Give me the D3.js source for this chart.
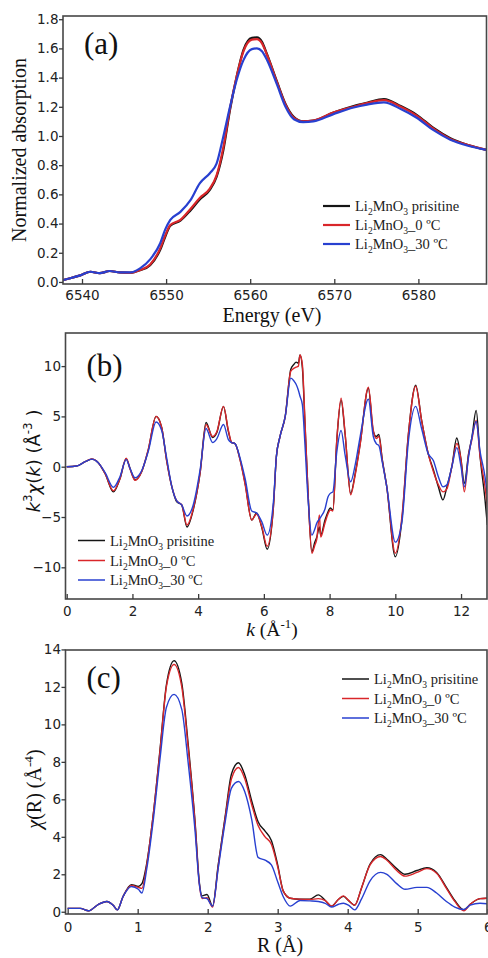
<!DOCTYPE html>
<html>
<head>
<meta charset="utf-8">
<script src="https://cdn.jsdelivr.net/npm/d3@7"></script>
<style>
  html, body { margin: 0; padding: 0; background: #fff; }
  svg { display: block; }
</style>
</head>
<body>
<svg id="chart" width="488" height="958"></svg>
<script>
// ---------- (a) Mn K-edge XANES ----------
const energy = [6537.7, 6538.6, 6539.8, 6541.0, 6542.1, 6543.3, 6544.5, 6545.7, 6546.9, 6548.1,
  6549.3, 6549.9, 6550.5, 6551.7, 6552.9, 6554.0, 6555.2, 6556.0, 6556.8, 6557.6,
  6558.4, 6559.2, 6560.2, 6560.8, 6561.4, 6562.0, 6563.2, 6564.2, 6565.2, 6566.3,
  6567.5, 6569.9, 6572.3, 6573.9, 6575.9, 6577.9, 6579.8, 6581.8, 6583.8, 6585.8, 6588.1];
const xanesPristine = [0.012, 0.025, 0.045, 0.07, 0.06, 0.075, 0.065, 0.063, 0.08, 0.115,
  0.22, 0.31, 0.385, 0.42, 0.49, 0.565, 0.63, 0.72, 0.90, 1.18,
  1.41, 1.59, 1.672, 1.675, 1.645, 1.56, 1.37, 1.22, 1.13, 1.10,
  1.105, 1.16, 1.205, 1.228, 1.253, 1.205, 1.145, 1.055, 0.985, 0.94, 0.905];
const xanes0C = [0.012, 0.025, 0.045, 0.07, 0.06, 0.075, 0.065, 0.063, 0.082, 0.12,
  0.23, 0.32, 0.39, 0.425, 0.50, 0.575, 0.64, 0.73, 0.92, 1.19,
  1.41, 1.58, 1.66, 1.663, 1.635, 1.555, 1.365, 1.215, 1.125, 1.10,
  1.105, 1.16, 1.20, 1.225, 1.245, 1.20, 1.14, 1.05, 0.98, 0.94, 0.905];
const xanes30C = [0.012, 0.025, 0.045, 0.07, 0.06, 0.075, 0.065, 0.065, 0.093, 0.155,
  0.265, 0.36, 0.425, 0.48, 0.56, 0.675, 0.745, 0.81, 0.995, 1.20,
  1.385, 1.52, 1.595, 1.60, 1.58, 1.52, 1.35, 1.20, 1.115, 1.095,
  1.10, 1.15, 1.195, 1.215, 1.23, 1.185, 1.125, 1.04, 0.975, 0.935, 0.905];
const energyTicks = [6540, 6550, 6560, 6570, 6580];
const absorptionTicks = [0, 0.2, 0.4, 0.6, 0.8, 1.0, 1.2, 1.4, 1.6, 1.8];

// ---------- (b) k^3-weighted EXAFS ----------
const kValues = [0, 0.3, 0.56, 0.76, 0.96, 1.17, 1.42, 1.62, 1.81, 1.93,
  2.08, 2.28, 2.48, 2.72, 2.89, 3.04, 3.20, 3.35, 3.50, 3.66,
  3.85, 4.06, 4.24, 4.44, 4.57, 4.77, 4.92, 5.02, 5.12, 5.28,
  5.43, 5.63, 5.78, 5.94, 6.10, 6.29, 6.38, 6.49, 6.65, 6.82,
  6.92, 6.98, 7.05, 7.10, 7.17, 7.25, 7.34, 7.46, 7.55, 7.61,
  7.69, 7.73, 7.86, 7.95, 8.02, 8.10, 8.22, 8.35, 8.47, 8.64,
  8.78, 8.93, 9.18, 9.33, 9.42, 9.50, 9.60, 9.74, 10.0, 10.2,
  10.4, 10.62, 10.8, 11.0, 11.16, 11.31, 11.45, 11.57, 11.72, 11.87,
  12.0, 12.1, 12.23, 12.33, 12.46, 12.58, 12.73, 12.8];
const chiKPristine = [0, 0.07, 0.5, 0.75, 0.4, -0.7, -2.5, -1.2, 0.8, -0.2,
  -1.3, -0.5, 1.65, 5.0, 3.9, 0.66, -2.0, -3.5, -3.8, -6.0,
  -4.3, -0.6, 4.4, 2.9, 3.4, 6.0, 3.5, 2.4, 2.3, 0.66,
  -1.65, -5.3, -4.6, -6.1, -8.2, -4.0, 1.0, 3.0, 5.0, 9.7,
  10.2, 10.4, 10.3, 11.1, 9.9, 4.3, -2.3, -8.45, -7.5, -7.0,
  -6.0, -6.8, -5.3, -4.5, -4.1, -4.3, 2.65, 6.6, 3.3, -2.65,
  -0.66, 2.3, 7.8, 3.5, 3.0, 3.2, 0.8, -2.0, -8.95, -5.3,
  3.3, 8.1, 4.6, 1.3, -0.33, -2.0, -3.3, -2.0, 0, 2.85,
  0.7, -1.65, 1.3, 2.9, 5.6, 1.0, -3.3, -5.8];
const chiK0C = [0, 0.07, 0.5, 0.78, 0.4, -0.7, -2.4, -1.2, 0.85, -0.25,
  -1.35, -0.5, 1.7, 5.0, 3.9, 0.6, -2.0, -3.4, -3.8, -5.8,
  -4.2, -0.6, 4.2, 3.0, 3.5, 6.0, 3.6, 2.4, 2.3, 0.6,
  -1.8, -5.3, -4.7, -6.0, -7.9, -4.0, 1.0, 3.0, 5.0, 9.5,
  9.8, 9.9, 10.0, 11.1, 10.2, 4.6, -2.3, -8.6, -7.8, -7.2,
  -4.8, -7.0, -5.6, -4.7, -4.3, -4.4, 2.7, 6.8, 3.4, -2.8,
  -0.8, 2.2, 7.9, 3.6, 2.8, 3.0, 0.7, -2.0, -8.6, -5.0,
  3.3, 8.0, 4.6, 1.3, -0.5, -1.8, -2.5, -2.2, 0, 2.3,
  0.6, -2.5, 1.2, 2.7, 4.6, 1.0, -2.0, -4.0];
const chiK30C = [0, 0.07, 0.5, 0.75, 0.4, -0.6, -2.05, -1.0, 0.7, -0.2,
  -1.1, -0.4, 1.5, 4.45, 3.6, 0.9, -2.0, -3.4, -3.8, -4.9,
  -3.8, -0.3, 3.8, 2.4, 2.8, 4.2, 2.7, 2.4, 2.3, 0.8,
  -1.2, -4.4, -4.6, -5.5, -6.8, -3.5, 1.0, 3.0, 5.0, 8.8,
  8.5, 8.2, 7.6, 7.0, 6.2, 2.2, -3.0, -6.8, -6.2, -5.6,
  -5.2, -5.0, -4.2, -3.0, -2.65, -2.5, 1.5, 3.6, 1.2, -1.5,
  0.2, 3.0, 6.7, 3.0, 2.3, 2.1, 0.5, -2.0, -7.5, -5.5,
  2.6, 6.0, 3.8, 1.3, 0.6, -1.0, -2.0, -1.8, 0, 1.9,
  0, -2.0, 1.0, 2.9, 4.5, 1.5, -1.0, -2.8];
const kTicks = [0, 2, 4, 6, 8, 10, 12];
const chiKTicks = [-10, -5, 0, 5, 10];

// ---------- (c) Fourier transform magnitude ----------
const rValues = [0, 0.18, 0.3, 0.44, 0.56, 0.65, 0.71, 0.79, 0.91, 1.01,
  1.06, 1.13, 1.22, 1.32, 1.41, 1.52, 1.63, 1.72, 1.82, 1.88,
  1.92, 1.99, 2.07, 2.15, 2.25, 2.34, 2.44, 2.53, 2.63, 2.72,
  2.82, 2.91, 3.0, 3.08, 3.18, 3.32, 3.46, 3.58, 3.68, 3.77,
  3.87, 3.94, 4.01, 4.10, 4.2, 4.32, 4.47, 4.56, 4.7, 4.82,
  4.99, 5.13, 5.27, 5.41, 5.53, 5.66, 5.75, 5.89, 6.0];
const chiRPristine = [0.18, 0.18, 0.05, 0.4, 0.55, 0.35, 0.1, 0.8, 1.45, 1.35,
  1.5, 2.6, 5.1, 8.7, 12.1, 13.4, 12.2, 9.0, 4.8, 1.6,
  0.85, 0.92, 0.3, 2.5, 5.1, 7.35, 7.95, 7.3, 5.9, 4.8,
  4.3, 3.8, 2.5, 1.1, 0.72, 0.67, 0.67, 0.9, 0.6, 0.3,
  0.67, 0.82, 0.6, 0.35, 1.3, 2.55, 3.05, 2.8, 2.3, 2.0,
  2.2, 2.35, 2.1, 1.3, 0.6, 0.1, 0.4, 0.7, 0.72];
const chiR0C = [0.18, 0.18, 0.05, 0.4, 0.55, 0.35, 0.1, 0.8, 1.4, 1.3,
  1.25, 2.5, 5.1, 8.6, 12.0, 13.2, 12.0, 8.8, 4.7, 1.5,
  0.7, 0.75, 0.25, 2.4, 5.0, 7.1, 7.7, 7.1, 5.7, 4.6,
  4.0, 3.6, 2.4, 1.1, 0.72, 0.67, 0.65, 0.7, 0.6, 0.3,
  0.67, 0.85, 0.62, 0.35, 1.3, 2.5, 2.95, 2.75, 2.2, 1.9,
  2.1, 2.3, 2.05, 1.25, 0.55, 0.05, 0.4, 0.7, 0.72];
const chiR30C = [0.18, 0.18, 0.05, 0.4, 0.55, 0.35, 0.1, 0.8, 1.35, 1.2,
  1.0, 2.3, 4.8, 8.2, 10.9, 11.6, 10.8, 8.0, 4.3, 1.5,
  0.75, 0.7, 0.3, 2.3, 4.8, 6.6, 6.95, 6.4, 4.9, 2.9,
  2.75, 2.5, 1.6, 0.8, 0.3, 0.6, 0.58, 0.55, 0.45, 0.25,
  0.4, 0.45, 0.35, 0.1, 0.7, 1.65, 2.1, 2.0, 1.5, 1.2,
  1.3, 1.3, 1.0, 0.55, 0.25, 0.12, 0.35, 0.45, 0.42];
const rTicks = [0, 1, 2, 3, 4, 5, 6];
const chiRTicks = [0, 2, 4, 6, 8, 10, 12, 14];

// ---------- shared legend ----------
const sampleSuffixes = [" prisitine", "_0 \u00BAC", "_30 \u00BAC"];
const seriesColors = ["#151515", "#d9262a", "#2840d0"];

const svg = d3.select("#chart");
const SERIF = "'Liberation Serif', 'Times New Roman', serif";
const SANS = "'DejaVu Sans', Verdana, sans-serif";

// Rich text helper: parts are {t, sub, sup, it}
function richText(sel, parts, size) {
  let shift = 0;
  parts.forEach(p => {
    const ts = sel.append("tspan").text(p.t);
    let target = 0;
    if (p.sub) target = 0.28 * size;
    if (p.sup) target = -0.42 * size;
    const dy = target - shift;
    if (dy !== 0) ts.attr("dy", dy);
    shift = target;
    if (p.sub || p.sup) ts.attr("font-size", size * 0.66);
    if (p.it) ts.attr("font-style", "italic");
  });
}

function compound(suffix) {
  return [{t: "Li"}, {t: "2", sub: true}, {t: "MnO"}, {t: "3", sub: true}, {t: suffix}];
}

function panel(cfg) {
  const g = svg.append("g");
  const x = d3.scaleLinear().domain(cfg.xDomain).range([cfg.left, cfg.right]);
  const y = d3.scaleLinear().domain(cfg.yDomain).range([cfg.bottom, cfg.top]);

  const clipId = "clip-" + cfg.id;
  svg.append("clipPath").attr("id", clipId).append("rect")
    .attr("x", cfg.left).attr("y", cfg.top)
    .attr("width", cfg.right - cfg.left).attr("height", cfg.bottom - cfg.top);

  const line = d3.line().x(d => x(d[0])).y(d => y(d[1])).curve(d3.curveMonotoneX);
  const curves = g.append("g").attr("clip-path", `url(#${clipId})`);
  cfg.series.forEach((s, i) => {
    curves.append("path")
      .datum(cfg.xs.map((v, j) => [v, s[j]]))
      .attr("fill", "none")
      .attr("stroke", seriesColors[i])
      .attr("stroke-width", cfg.lineWidth)
      .attr("stroke-linejoin", "round")
      .attr("d", line);
  });

  // frame
  g.append("rect")
    .attr("x", cfg.left).attr("y", cfg.top)
    .attr("width", cfg.right - cfg.left).attr("height", cfg.bottom - cfg.top)
    .attr("fill", "none").attr("stroke", "#474747").attr("stroke-width", 1.6);

  const yAxis = g.append("g").attr("transform", `translate(${cfg.left},0)`)
    .call(d3.axisLeft(y).tickValues(cfg.yTicks).tickFormat(cfg.yFormat)
      .tickSizeInner(4).tickSizeOuter(0).tickPadding(0.5));
  const xAxis = g.append("g").attr("transform", `translate(0,${cfg.bottom})`)
    .call(d3.axisBottom(x).tickValues(cfg.xTicks).tickFormat(cfg.xFormat)
      .tickSizeInner(-5).tickSizeOuter(0).tickPadding(cfg.xPad));
  [yAxis, xAxis].forEach(a => {
    a.select(".domain").remove();
    a.selectAll(".tick line").attr("stroke", "#3a3a3a").attr("stroke-width", 1.3);
    a.selectAll(".tick text").attr("fill", "#222")
      .style("font-family", SANS).style("font-size", cfg.tickSize + "px");
  });

  // panel tag
  g.append("text").attr("x", cfg.left + 21).attr("y", cfg.tagY)
    .style("font-family", SERIF).style("font-size", "31px").attr("fill", "#111")
    .text(cfg.tag);

  // legend
  const lg = g.append("g");
  cfg.legendRows.forEach((ry, i) => {
    lg.append("line")
      .attr("x1", cfg.legendX).attr("x2", cfg.legendX + 27)
      .attr("y1", ry).attr("y2", ry)
      .attr("stroke", seriesColors[i]).attr("stroke-width", cfg.legendWidth);
    const t = lg.append("text")
      .attr("x", cfg.legendX + 32).attr("y", ry + 5)
      .style("font-family", SERIF).style("font-size", "14.5px").attr("fill", "#222");
    richText(t, compound(sampleSuffixes[i]), 14.5);
  });

  // axis titles
  const xt = g.append("text").attr("x", cfg.xTitleX).attr("y", cfg.xTitleY)
    .attr("text-anchor", "middle").attr("fill", "#111")
    .style("font-family", cfg.xTitleFont).style("font-size", cfg.xTitleSize + "px");
  richText(xt, cfg.xTitle, cfg.xTitleSize);

  const yt = g.append("text")
    .attr("transform", `translate(${cfg.yTitleX},${cfg.yTitleY}) rotate(-90)`)
    .attr("text-anchor", "middle").attr("fill", "#111")
    .style("font-family", cfg.yTitleFont).style("font-size", cfg.yTitleSize + "px");
  richText(yt, cfg.yTitle, cfg.yTitleSize);
}

// (a)
panel({
  id: "a", left: 63, right: 486.5, top: 16, bottom: 284,
  xDomain: [6537.74, 6588.1], yDomain: [-0.014, 1.822],
  xs: energy, series: [xanesPristine, xanes0C, xanes30C], lineWidth: 2.2,
  xTicks: energyTicks, yTicks: absorptionTicks,
  xFormat: d3.format("d"), yFormat: d3.format(".1f"), tickSize: 13.5, xPad: 6.5,
  tag: "(a)", tagY: 54,
  legendX: 323, legendRows: [206, 225, 244], legendWidth: 2.2,
  xTitle: [{t: "Energy (eV)"}], xTitleX: 272, xTitleY: 321.5, xTitleSize: 20, xTitleFont: SERIF,
  yTitle: [{t: "Normalized absorption"}], yTitleX: 26, yTitleY: 150, yTitleSize: 20, yTitleFont: SERIF
});

// (b)
panel({
  id: "b", left: 65.5, right: 487, top: 333, bottom: 599,
  xDomain: [-0.037, 12.79], yDomain: [-13.15, 13.29],
  xs: kValues, series: [chiKPristine, chiK0C, chiK30C], lineWidth: 1.4,
  xTicks: kTicks, yTicks: chiKTicks,
  xFormat: d3.format("d"), yFormat: d3.format("d"), tickSize: 13.5, xPad: 7.5,
  tag: "(b)", tagY: 376,
  legendX: 78, legendRows: [540.5, 560.5, 580], legendWidth: 1.5,
  xTitle: [{t: "k", it: true}, {t: " (\u00C5"}, {t: "-1", sup: true}, {t: ")"}],
  xTitleX: 272, xTitleY: 636, xTitleSize: 19.5, xTitleFont: SERIF,
  yTitle: [{t: "k", it: true}, {t: "3", sup: true}, {t: "\u03C7", it: true}, {t: "(", }, {t: "k", it: true},
           {t: ") (\u00C5"}, {t: "-3", sup: true}, {t: " )"}],
  yTitleX: 40, yTitleY: 461, yTitleSize: 18, yTitleFont: SANS
});

// (c)
panel({
  id: "c", left: 65.5, right: 487, top: 650, bottom: 914,
  xDomain: [-0.031, 5.99], yDomain: [-0.12, 13.97],
  xs: rValues, series: [chiRPristine, chiR0C, chiR30C], lineWidth: 1.4,
  xTicks: rTicks, yTicks: chiRTicks,
  xFormat: d3.format("d"), yFormat: d3.format("d"), tickSize: 13.5, xPad: 8,
  tag: "(c)", tagY: 688,
  legendX: 342, legendRows: [679, 698.5, 718], legendWidth: 1.5,
  xTitle: [{t: "R (\u00C5)"}], xTitleX: 280, xTitleY: 952, xTitleSize: 20, xTitleFont: SERIF,
  yTitle: [{t: "\u03C7", it: true}, {t: "(R) (\u00C5"}, {t: "-4", sup: true}, {t: ")"}],
  yTitleX: 41, yTitleY: 789, yTitleSize: 20, yTitleFont: SERIF
});
</script>
</body>
</html>
